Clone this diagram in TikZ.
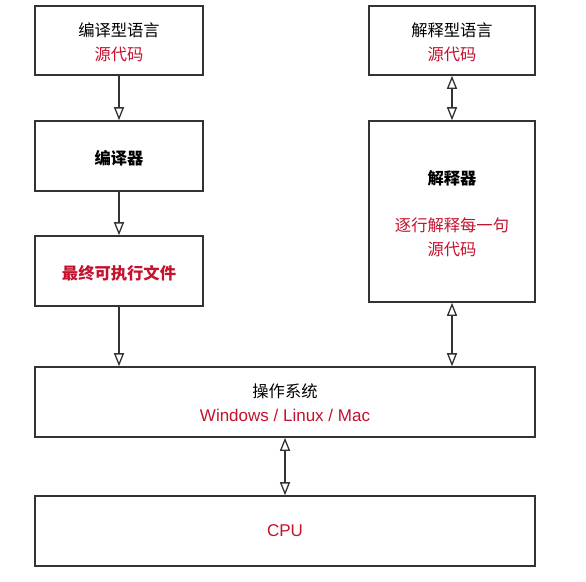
\documentclass[tikz,border=0pt]{standalone}
\usepackage{fontspec}
\setmainfont{Liberation Sans}
\newfontfamily\cjk{Noto Sans CJK SC}
\usetikzlibrary{arrows.meta}
\definecolor{linegray}{HTML}{333333}
\definecolor{accent}{HTML}{C4122F}
\tikzset{
  box/.style={draw=linegray, line width=1.6pt, fill=white, inner sep=0pt},
  txt/.style={align=center, inner sep=0pt, font=\cjk\fontsize{16.3}{24}\selectfont},
  flow/.style={draw=linegray, line width=1.6pt, -{Triangle[length=13pt,width=10pt,fill=white,line width=1.3pt]}},
  link/.style={draw=linegray, line width=1.6pt,
    {Triangle[length=13pt,width=10pt,fill=white,line width=1.3pt]}-{Triangle[length=13pt,width=10pt,fill=white,line width=1.3pt]}}
}
\newcommand{\red}[1]{\textcolor{accent}{#1}}
\newcommand{\latin}[1]{{\rmfamily\fontsize{17}{24}\selectfont #1}}
\begin{document}
\begin{tikzpicture}[x=1pt,y=-1pt]
\useasboundingbox (0,0) rectangle (586,581);
% compiled-language column
\node[box, minimum width=168pt, minimum height=69pt] (src1) at (119,40.5) {};
\node[box, minimum width=168pt, minimum height=70pt] (comp) at (119,156) {};
\node[box, minimum width=168pt, minimum height=70pt] (exe) at (119,271) {};
% interpreted-language column
\node[box, minimum width=166pt, minimum height=69pt] (src2) at (452,40.5) {};
\node[box, minimum width=166pt, minimum height=181pt] (interp) at (452,211.5) {};
% operating system and hardware
\node[box, minimum width=500pt, minimum height=70pt] (os) at (285,402) {};
\node[box, minimum width=500pt, minimum height=70pt] (cpu) at (285,531) {};
% box labels
\node[txt] (src1-t) at ([yshift=-2pt]src1) {编译型语言\\\red{源代码}};
\node[txt] (comp-t) at ([yshift=-2pt]comp) {\bfseries 编译器};
\node[txt] (exe-t) at ([yshift=-2pt]exe) {\bfseries\red{最终可执行文件}};
\node[txt] (src2-t) at ([yshift=-2pt]src2) {解释型语言\\\red{源代码}};
\node[txt] (interp-t) at ([yshift=-2pt]interp) {\bfseries 解释器\\[23pt]\red{逐行解释每一句}\\\red{源代码}};
\node[txt] (os-t) at ([yshift=-0.5pt]os) {操作系统\\\red{\latin{Windows / Linux / Mac}}};
\node[txt] (cpu-t) at (cpu) {\red{\latin{CPU}}};
% connectors
\draw[flow] (src1) -- (comp);
\draw[flow] (comp) -- (exe);
\draw[flow] (exe.south) -- (exe.south |- os.north);
\draw[link] (src2) -- (interp);
\draw[link] (interp.south) -- (interp.south |- os.north);
\draw[link] (os) -- (cpu);
\end{tikzpicture}
\end{document}
